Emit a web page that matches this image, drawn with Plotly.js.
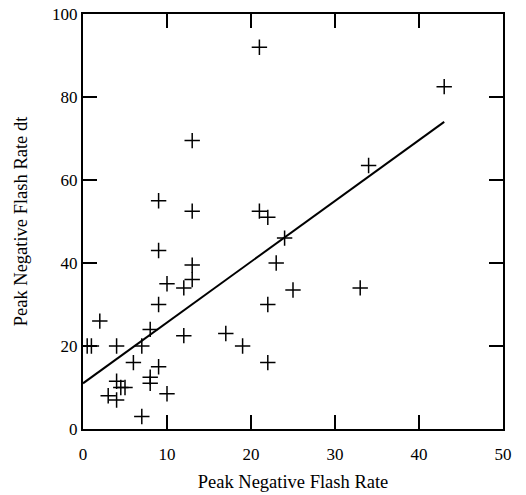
<!DOCTYPE html>
<html><head><meta charset="utf-8">
<script src="https://cdn.plot.ly/plotly-3.0.1.min.js"></script>
<style>body{margin:0;background:#fff}#c{width:526px;height:495px}</style>
</head><body><div id="c"></div>
<script>
const flashX = [21, 43, 13, 34, 9, 13, 21, 22, 24, 9, 23, 13, 13, 10, 12, 33, 25, 9, 22, 2, 8, 12, 17, 0.5, 1, 4, 7, 19, 6, 22, 9, 8, 8, 4, 4.5, 5, 3, 4, 10, 7];
const flashY = [92, 82.5, 69.5, 63.5, 55, 52.5, 52.5, 51, 46, 43, 40, 39.5, 36, 35, 34, 34, 33.5, 30, 30, 26, 24, 22.5, 23, 20, 20, 20, 20, 20, 16, 16, 15, 12.5, 11, 11.5, 10, 10, 8, 7, 8.5, 3];
const fitX = [0, 43];
const fitY = [11, 74];

const tickFont = {family: '"Liberation Serif", "Times New Roman", serif', size: 17, color: '#000'};
const titleFont = {family: '"Liberation Serif", "Times New Roman", serif', size: 18.5, color: '#000'};
const axisCommon = {
  showgrid: false, zeroline: false, showline: true, linecolor: '#000', linewidth: 2,
  mirror: 'ticks', ticks: 'inside', ticklen: 14, tickwidth: 2, tickcolor: '#000',
  tickfont: tickFont
};
Plotly.newPlot('c', [
  {x: flashX, y: flashY, mode: 'markers', type: 'scatter',
   marker: {symbol: 'cross-thin-open', size: 11, line: {color: '#000', width: 1.5}, color: '#000'}},
  {x: fitX, y: fitY, mode: 'lines', type: 'scatter', line: {color: '#000', width: 2}}
], {
  width: 526, height: 495, showlegend: false,
  paper_bgcolor: '#fff', plot_bgcolor: '#fff',
  margin: {l: 83, r: 23, t: 14, b: 66},
  font: tickFont,
  xaxis: Object.assign({}, axisCommon, {range: [0, 50], tickvals: [0, 10, 20, 30, 40, 50],
    ticklabelstandoff: 9,
    title: {text: 'Peak Negative Flash Rate', font: titleFont, standoff: 12}}),
  yaxis: Object.assign({}, axisCommon, {range: [0, 100], tickvals: [0, 20, 40, 60, 80, 100],
    ticklabelstandoff: 0,
    title: {text: 'Peak Negative Flash Rate dt', font: titleFont, standoff: 20}})
}, {staticPlot: true});
</script></body></html>
